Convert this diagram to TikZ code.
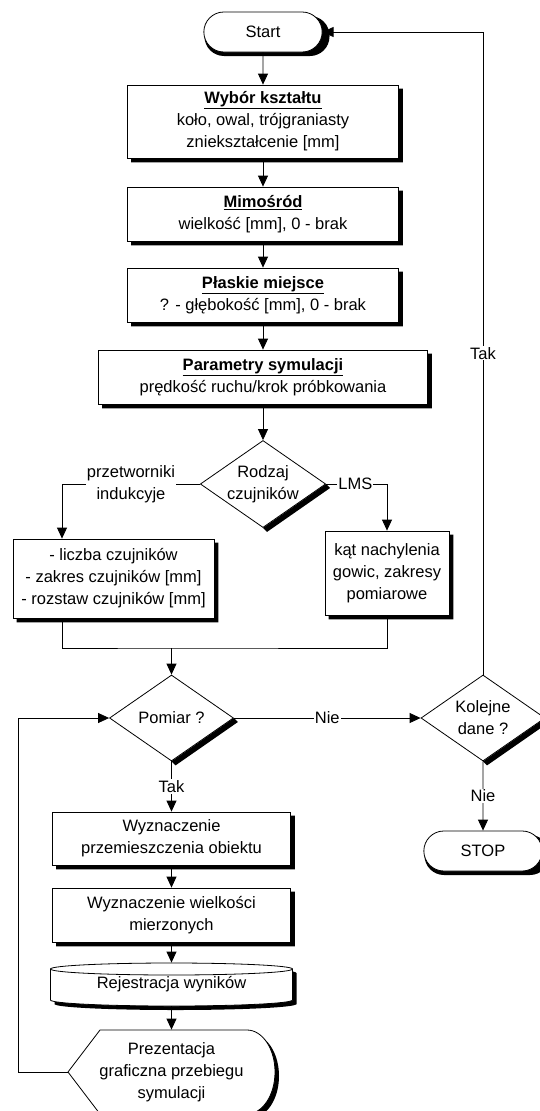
\documentclass[tikz,border=0pt]{standalone}
\usepackage{fontspec}
\setmainfont{Liberation Sans}
\usetikzlibrary{positioning, arrows.meta, shapes.geometric, shapes.misc, calc}

\tikzset{
  >={Triangle[length=11pt,width=10pt]},
  blok/.style={rectangle, draw, fill=white, align=center, inner sep=2pt},
  terminal/.style={rounded rectangle, draw, fill=white, minimum width=125pt, minimum height=40pt},
  decyzja/.style={diamond, draw, fill=white, aspect=1.44, minimum width=124pt, minimum height=86pt, inner sep=0pt, align=center},
  baza/.style={rectangle, minimum width=242pt, minimum height=43pt, inner sep=0pt},
  ekran/.style={rectangle, minimum width=207pt, minimum height=84pt, inner sep=0pt, align=center},
  etykieta/.style={fill=white, inner sep=1pt, align=center},
  cien/.style={fill=black, draw=none}
}

\begin{document}
\begin{tikzpicture}[x=1pt, y=-1pt, on grid, line width=0.8pt, font=\fontsize{16.5}{22}\selectfont]
  \useasboundingbox (0,0) rectangle (540,1111);

  % cienie terminali, bazy danych i ekranu
  \path[cien, rounded corners=19.5pt] (204.5,16) rectangle (329.5,56);
  \path[cien, rounded corners=19.5pt] (424.5,835) rectangle (549.5,875);
  \path[cien] (54.5,973) -- (54.5,1004) arc[start angle=180, end angle=360, x radius=121pt, y radius=6pt]
    -- (296.5,973) arc[start angle=0, end angle=180, x radius=121pt, y radius=6pt] -- cycle;
  \path[cien] (72,1076) -- (104,1034) -- (251,1034)
    arc[start angle=90, end angle=-90, x radius=28pt, y radius=42pt] -- (104,1118) -- cycle;
  % obrysy bazy danych i ekranu
  \path[draw, fill=white] (50.5,969) -- (50.5,1000) arc[start angle=180, end angle=360, x radius=121pt, y radius=6pt]
    -- (292.5,969) arc[start angle=0, end angle=180, x radius=121pt, y radius=6pt] -- cycle;
  \draw (50.5,969) arc[start angle=180, end angle=360, x radius=121pt, y radius=6pt];
  \path[draw, fill=white] (68,1072) -- (100,1030) -- (247,1030)
    arc[start angle=90, end angle=-90, x radius=28pt, y radius=42pt] -- (100,1114) -- cycle;

  \node[terminal] (start) at (263,32) {Start};
  \node[blok, minimum width=271pt, minimum height=73pt] (wybor) [below=89.5pt of start]
    {\underline{\textbf{Wybór kształtu}}\\koło, owal, trójgraniasty\\zniekształcenie [mm]};
  \node[blok, minimum width=271pt, minimum height=54pt] (mimo) [below=92.5pt of wybor]
    {\underline{\textbf{Mimośród}}\\wielkość [mm], 0 - brak};
  \node[blok, minimum width=271pt, minimum height=54pt] (plaskie) [below=81pt of mimo]
    {\underline{\textbf{Płaskie miejsce}}\\? - głębokość [mm], 0 - brak};
  \node[blok, minimum width=329pt, minimum height=54pt] (param) [below=82pt of plaskie]
    {\underline{\textbf{Parametry symulacji}}\\prędkość ruchu/krok próbkowania};
  \node[decyzja] (rodzaj) [below=107pt of param] {Rodzaj\\czujników};

  \node[blok, minimum width=201pt, minimum height=79pt] (lewy) at (113.5,578.5)
    {- liczba czujników\\- zakres czujników [mm]\\- rozstaw czujników [mm]};
  \node[blok, minimum width=124pt, minimum height=84pt] (prawy) at (387,573)
    {kąt nachylenia\\gowic, zakresy\\pomiarowe};
  \coordinate (merge) at (171.5,648);

  \node[decyzja] (pomiar) at (171.5,718) {Pomiar ?};
  \node[decyzja] (kolejne) [right=311.5pt of pomiar] {Kolejne\\dane ?};
  \node[terminal] (stop) at (483,851) {STOP};

  \node[blok, minimum width=238pt, minimum height=53pt] (wyzn1) [below=120.5pt of pomiar]
    {Wyznaczenie\\przemieszczenia obiektu};
  \node[blok, minimum width=238pt, minimum height=54pt] (wyzn2) [below=76.5pt of wyzn1]
    {Wyznaczenie wielkości\\mierzonych};
  \node[baza] (rej) [below=69.5pt of wyzn2] {Rejestracja wyników};
  \node[ekran] (prez) [below=87.5pt of rej] {Prezentacja\\graficzna przebiegu\\symulacji};
  \coordinate (petla) at (18,1072);

  % cienie blokow i decyzji
  \foreach \n in {wybor,mimo,plaskie,param,lewy,prawy,wyzn1,wyzn2}
    \path[cien] ($(\n.north east)+(0pt,-4pt)$) -- ($(\n.north east)+(4pt,-4pt)$)
      -- ($(\n.south east)+(4pt,-4pt)$) -- ($(\n.south west)+(4pt,-4pt)$)
      -- ($(\n.south west)+(4pt,0pt)$) -- (\n.south east) -- cycle;
  \foreach \n in {rodzaj,pomiar,kolejne}
    \path[cien] (\n.east) -- (\n.south) -- ($(\n.south)+(4pt,-4pt)$) -- ($(\n.east)+(4pt,-4pt)$) -- cycle;

  \path[->]
    (start) edge (wybor)
    (wybor) edge (mimo)
    (mimo) edge (plaskie)
    (plaskie) edge (param)
    (param) edge (rodzaj)
    (merge) edge (pomiar)
    (pomiar) edge node[etykieta] {Nie} (kolejne)
    (pomiar) edge node[etykieta] {Tak} (wyzn1)
    (kolejne) edge node[etykieta] {Nie} (stop)
    (wyzn1) edge (wyzn2)
    (wyzn2) edge (rej)
    (rej) edge (prez);

  \draw[->] (rodzaj.west) -| node[etykieta, pos=0.25] {przetworniki\\indukcyje} ([xshift=-51.5pt]lewy.north);
  \draw[->] (rodzaj.east) -| node[etykieta, pos=0.24] {LMS} (prawy.north);
  \draw ([xshift=-51.5pt]lewy.south) |- (merge) -| (prawy.south);
  \draw[->] (kolejne) |- node[etykieta, pos=0.25] {Tak} (start);
  \draw[->] (prez.west) -- (petla) |- (pomiar.west);
\end{tikzpicture}
\end{document}
